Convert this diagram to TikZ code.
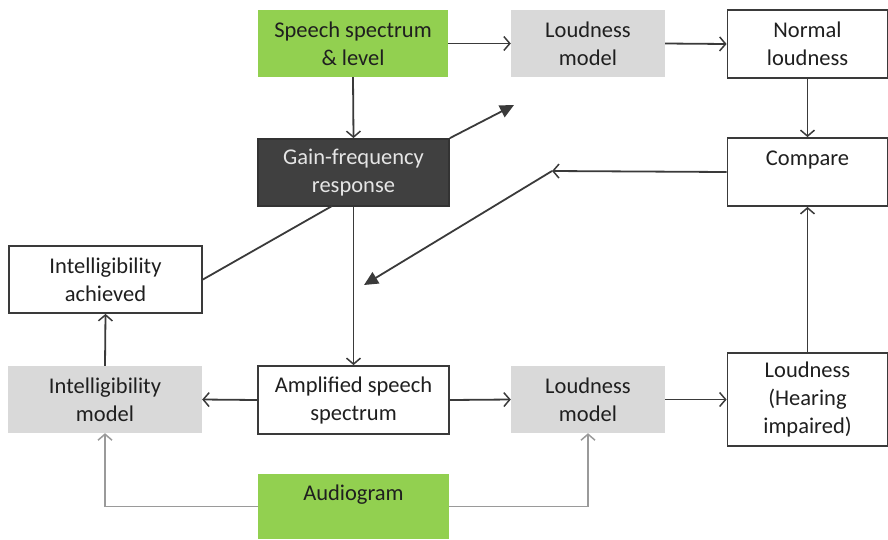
\documentclass[tikz,border=0pt]{standalone}
\usepackage{fontspec}
\setmainfont{Carlito}
\usetikzlibrary{arrows.meta}
\definecolor{boxgreen}{HTML}{92D050}
\definecolor{boxgray}{HTML}{D9D9D9}
\definecolor{boxdark}{HTML}{404040}
\definecolor{linecol}{HTML}{3A3A3A}
\definecolor{audline}{HTML}{9A9A9A}
\tikzset{
  base/.style={rectangle, inner sep=0pt, align=center, text=black!88,
    font=\fontsize{22.5}{28}\selectfont},
  greenbox/.style={base, fill=boxgreen},
  graybox/.style={base, fill=boxgray},
  whitebox/.style={base, draw=linecol, line width=1.8pt, fill=white},
  darkbox/.style={base, draw=black!80, line width=1.8pt, fill=boxdark, text=black!10},
  conn/.style={draw=linecol, line width=1.8pt, -{Straight Barb[length=6pt,width=14pt,line width=1.5pt]}},
  plain/.style={draw=linecol, line width=1.8pt},
  filledarrow/.style={draw=linecol, line width=1.8pt, -{Triangle[length=14pt,width=13pt]}},
  audconn/.style={draw=audline, line width=1.8pt, -{Straight Barb[length=6pt,width=14pt,line width=1.5pt]}},
}
\begin{document}
\begin{tikzpicture}[x=1pt,y=-1pt]
\useasboundingbox (0,0) rectangle (888,539);
\node[greenbox, minimum width=190pt, minimum height=67pt] (speech) at (353,43.5) {Speech spectrum\\\& level};
\node[graybox, minimum width=154pt, minimum height=67pt] (lm1) at (588,43.5) {Loudness\\model};
\node[whitebox, minimum width=160pt, minimum height=68pt] (normal) at (807.5,44) {Normal\\loudness};
\node[darkbox, minimum width=191pt, minimum height=67pt] (gain) at (353.5,172.5) {Gain-frequency\\response};
\node[whitebox, minimum width=160pt, minimum height=68pt] (compare) at (807.5,172) {Compare\\\mbox{}};
\node[whitebox, minimum width=193pt, minimum height=67pt] (intach) at (105.5,279.5) {Intelligibility\\achieved};
\node[graybox, minimum width=194pt, minimum height=67pt] (intmod) at (105,399.5) {Intelligibility\\model};
\node[whitebox, minimum width=191pt, minimum height=68pt] (amp) at (353.5,400) {Amplified speech\\spectrum};
\node[graybox, minimum width=154pt, minimum height=67pt] (lm2) at (588,399.5) {Loudness\\model};
\node[whitebox, minimum width=160pt, minimum height=93pt] (lhi) at (807.5,399.5) {Loudness\\(Hearing\\impaired)};
\node[greenbox, minimum width=191pt, minimum height=65pt] (audio) at (353.5,506.5) {Audiogram\\\mbox{}};

\coordinate (gtip) at (514,105);
\coordinate (cturn) at (552,171);
\coordinate (ctip) at (364,285);

\draw[conn] (speech.east) -- (lm1.west);
\draw[conn] (lm1.east) -- (normal.west);
\draw[conn] (normal.south) -- (compare.north);
\draw[conn] (speech.south) -- (gain.north);
\draw[filledarrow] (gain.north east) -- (gtip);
\draw[conn] (compare.west) -- (cturn);
\draw[filledarrow] (cturn) -- (ctip);
\draw[plain] (332,206) -- (intach.east);
\draw[conn] (gain.south) -- (amp.north);
\draw[conn] (intmod.north) -- (intach.south);
\draw[conn] (amp.west) -- (intmod.east);
\draw[conn] (amp.east) -- (lm2.west);
\draw[conn] (lm2.east) -- (lhi.west);
\draw[conn] (lhi.north) -- (compare.south);
\draw[audconn] (audio.west) -| (intmod.south);
\draw[audconn] (audio.east) -| (lm2.south);
\end{tikzpicture}
\end{document}
